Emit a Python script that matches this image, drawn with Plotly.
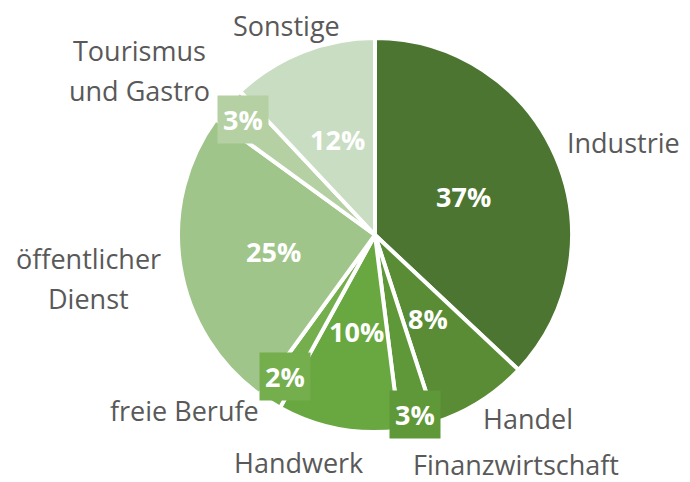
import math

import plotly.graph_objects as go

# data
sectors = [
    "Industrie",
    "Handel",
    "Finanzwirtschaft",
    "Handwerk",
    "freie Berufe",
    "öffentlicher Dienst",
    "Tourismus und Gastro",
    "Sonstige",
]
shares = [37, 8, 3, 10, 2, 25, 3, 12]
colors = [
    "#4b7530",
    "#5a8c35",
    "#5f9838",
    "#69a841",
    "#74ae4d",
    "#a0c58a",
    "#b5d0a3",
    "#c9ddc2",
]

# page has an 8px body margin, so the figure is drawn 8px in
OFF = 8
W, H = 690 - OFF, 482 - OFF
CX, CY, R = 375, 235, 197


def px(x, y):
    return (x - OFF) / W, 1 - (y - OFF) / H


fig = go.Figure(
    go.Pie(
        labels=sectors,
        values=shares,
        sort=False,
        direction="clockwise",
        rotation=0,
        marker=dict(colors=colors, line=dict(color="white", width=4)),
        textinfo="none",
        hoverinfo="label+percent",
        domain=dict(
            x=[(CX - R - OFF) / W, (CX + R - OFF) / W],
            y=[1 - (CY + R - OFF) / H, 1 - (CY - R - OFF) / H],
        ),
    )
)

annotations = []

# percentage labels at the mid angle of each slice
radius_factor = [0.49, 0.5, 0.935, 0.5, 0.85, 0.52, 0.89, 0.52]
boxed = [False, False, True, False, True, False, True, False]
total = sum(shares)
cum = 0
for i, v in enumerate(shares):
    mid = (cum + v / 2) / total * 2 * math.pi
    cum += v
    r = R * radius_factor[i]
    x = CX + r * math.sin(mid)
    y = CY - r * math.cos(mid)
    xp, yp = px(x, y)
    ann = dict(
        x=xp,
        y=yp,
        xref="paper",
        yref="paper",
        text=f"<b>{round(v / total * 100)}%</b>",
        showarrow=False,
        font=dict(size=27, color="white", family="Open Sans"),
        xanchor="center",
        yanchor="middle",
    )
    if boxed[i]:
        ann.update(bgcolor=colors[i], borderpad=5)
    annotations.append(ann)

# category names around the pie (one annotation per text line)
name_lines = {
    "Industrie": [("Industrie", 623, 142)],
    "Handel": [("Handel", 528, 418)],
    "Finanzwirtschaft": [("Finanzwirtschaft", 516, 464)],
    "Handwerk": [("Handwerk", 298, 462)],
    "freie Berufe": [("freie Berufe", 184, 410)],
    "öffentlicher Dienst": [("öffentlicher", 88, 258), ("Dienst", 88, 298)],
    "Tourismus und Gastro": [("Tourismus", 139, 50), ("und Gastro", 139, 91)],
    "Sonstige": [("Sonstige", 286, 26)],
}
for name in sectors:
    for text, x, y in name_lines[name]:
        xp, yp = px(x, y)
        annotations.append(
            dict(
                x=xp,
                y=yp,
                xref="paper",
                yref="paper",
                text=text,
                showarrow=False,
                font=dict(size=27, color="#595959", family="Open Sans"),
                xanchor="center",
                yanchor="middle",
            )
        )

fig.update_layout(
    width=W,
    height=H,
    margin=dict(l=0, r=0, t=0, b=0),
    paper_bgcolor="white",
    plot_bgcolor="white",
    showlegend=False,
    annotations=annotations,
)

fig.write_html("out.html")
